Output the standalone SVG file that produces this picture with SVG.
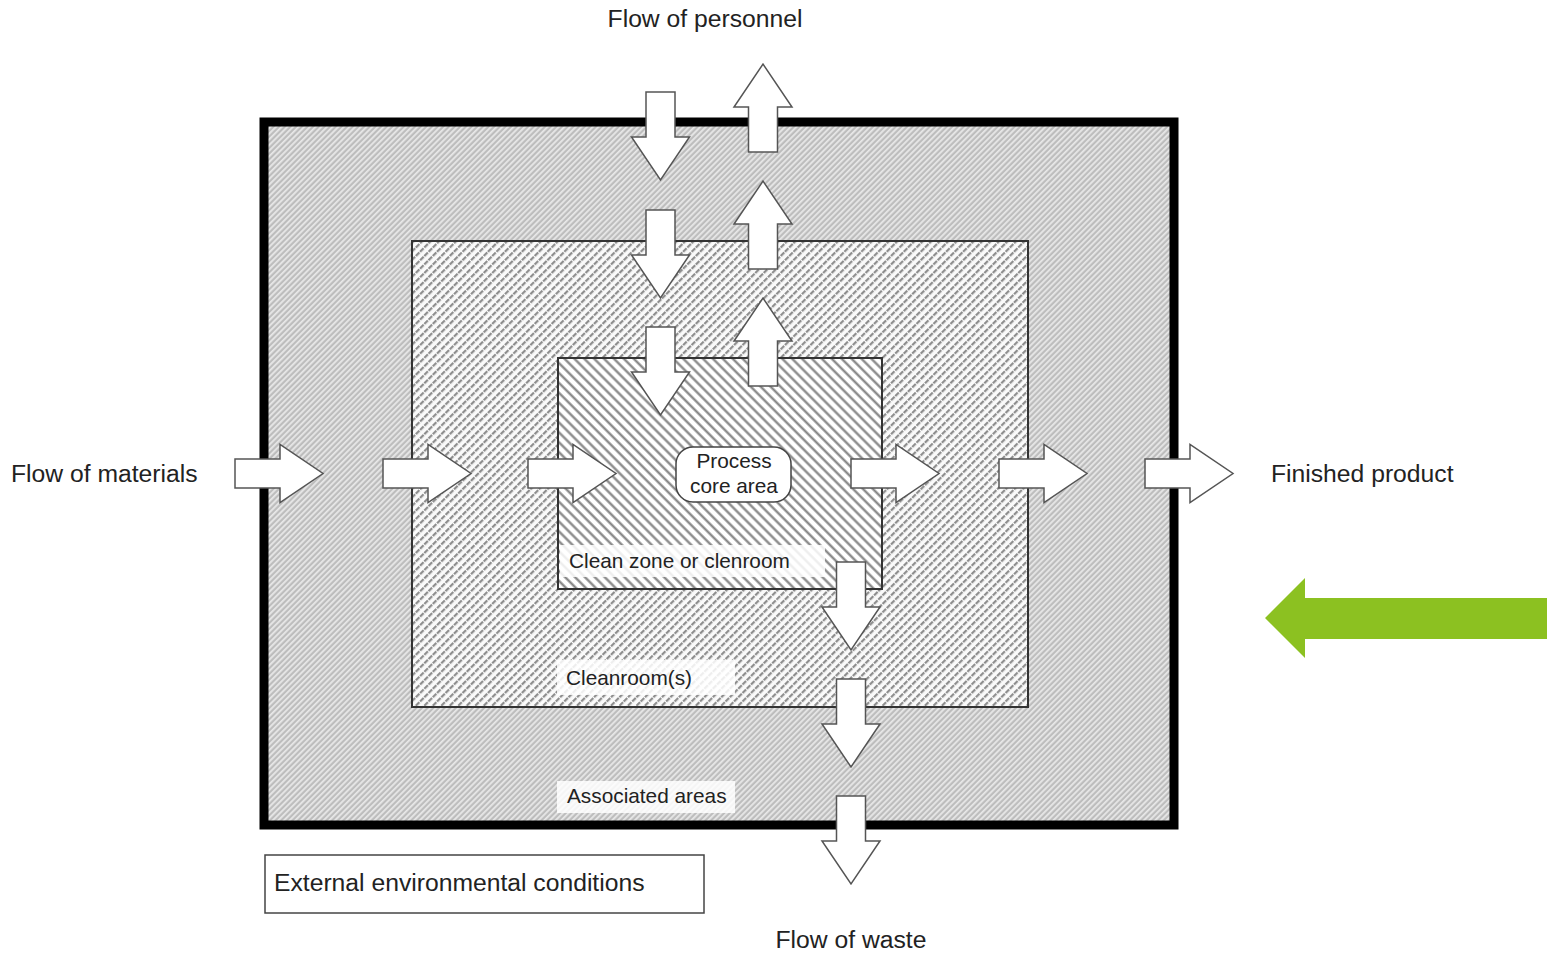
<svg xmlns="http://www.w3.org/2000/svg" width="1550" height="957" viewBox="0 0 1550 957">
  <style>
    .lbl { font-family: "Liberation Sans", Arial, sans-serif; fill: #222; }
    .big { font-size: 24.7px; }
    .small { font-size: 20.8px; }
    .flow { fill: #fff; stroke: #555; stroke-width: 1.5; stroke-linejoin: miter; }
    .tagbg { fill: #fff; fill-opacity: 0.85; }
  </style>
  <defs>
    <pattern id="pAssoc" width="4" height="4" patternUnits="userSpaceOnUse" patternTransform="rotate(-45)">
      <rect width="4" height="4" fill="#bdbdbd"/>
      <rect width="4" height="1.8" fill="#e8e8e8"/>
    </pattern>
    <pattern id="pClean" width="6" height="6" patternUnits="userSpaceOnUse" patternTransform="rotate(-45)">
      <rect width="6" height="6" fill="#fafafa"/>
      <line x1="0" y1="1.2" x2="6" y2="1.2" stroke="#8e8e8e" stroke-width="2.2" stroke-dasharray="4 1"/>
    </pattern>
    <pattern id="pCore" width="7" height="7" patternUnits="userSpaceOnUse" patternTransform="rotate(45)">
      <rect width="7" height="7" fill="#fff"/>
      <line x1="0" y1="1.5" x2="7" y2="1.5" stroke="#808080" stroke-width="2.2"/>
    </pattern>
    <path id="arrowR" d="M0,-14.5 H45 V-29 L88,0 L45,29 V14.5 H0 Z"/>
  </defs>

  <g id="associated-areas">
    <rect x="264" y="122" width="910" height="703" fill="url(#pAssoc)" stroke="#000" stroke-width="9"/>
  </g>
  <g id="cleanrooms">
    <rect x="412" y="241" width="616" height="466" fill="url(#pClean)" stroke="#333" stroke-width="2"/>
  </g>
  <g id="clean-zone">
    <rect x="558" y="358" width="324" height="231" fill="url(#pCore)" stroke="#333" stroke-width="2"/>
  </g>

  <g id="label-clean-zone">
    <rect class="tagbg" x="560" y="545" width="265" height="32"/>
    <text class="lbl small" x="569" y="568">Clean zone or clenroom</text>
  </g>
  <g id="label-cleanrooms">
    <rect class="tagbg" x="557" y="660" width="178" height="35"/>
    <text class="lbl small" x="566" y="685">Cleanroom(s)</text>
  </g>
  <g id="label-associated">
    <rect class="tagbg" x="557" y="781" width="178" height="32"/>
    <text class="lbl small" x="567" y="803">Associated areas</text>
  </g>

  <g id="process-core">
    <rect x="676" y="447" width="115" height="55" rx="17" fill="#fff" stroke="#444" stroke-width="1.5"/>
    <text class="lbl small" x="734" y="468" text-anchor="middle">Process</text>
    <text class="lbl small" x="734" y="493" text-anchor="middle">core area</text>
  </g>

  <g id="external">
    <rect x="265" y="855" width="439" height="58" fill="#fff" stroke="#444" stroke-width="1.5"/>
    <text class="lbl big" x="274" y="891">External environmental conditions</text>
  </g>

  <g id="connectors">
    <!-- personnel in -->
    <use href="#arrowR" class="flow" transform="translate(660.5,92) rotate(90)"/>
    <use href="#arrowR" class="flow" transform="translate(660.5,210) rotate(90)"/>
    <use href="#arrowR" class="flow" transform="translate(660.5,327) rotate(90)"/>
    <!-- personnel out -->
    <use href="#arrowR" class="flow" transform="translate(763,152) rotate(-90)"/>
    <use href="#arrowR" class="flow" transform="translate(763,269) rotate(-90)"/>
    <use href="#arrowR" class="flow" transform="translate(763,386) rotate(-90)"/>
    <!-- materials -->
    <use href="#arrowR" class="flow" transform="translate(235,473.5)"/>
    <use href="#arrowR" class="flow" transform="translate(383,473.5)"/>
    <use href="#arrowR" class="flow" transform="translate(528,473.5)"/>
    <use href="#arrowR" class="flow" transform="translate(851,473.5)"/>
    <use href="#arrowR" class="flow" transform="translate(999,473.5)"/>
    <use href="#arrowR" class="flow" transform="translate(1145,473.5)"/>
    <!-- waste -->
    <use href="#arrowR" class="flow" transform="translate(851,562) rotate(90)"/>
    <use href="#arrowR" class="flow" transform="translate(851,679) rotate(90)"/>
    <use href="#arrowR" class="flow" transform="translate(851,796) rotate(90)"/>
  </g>

  <g id="flow-labels">
    <text class="lbl big" x="705" y="27" text-anchor="middle">Flow of personnel</text>
    <text class="lbl big" x="11" y="482">Flow of materials</text>
    <text class="lbl big" x="1271" y="482">Finished product</text>
    <text class="lbl big" x="851" y="948" text-anchor="middle">Flow of waste</text>
  </g>

  <g id="highlight-arrow">
    <polygon points="1265,618 1305,578 1305,598 1547,598 1547,639 1305,639 1305,658" fill="#8cc121"/>
  </g>
</svg>
